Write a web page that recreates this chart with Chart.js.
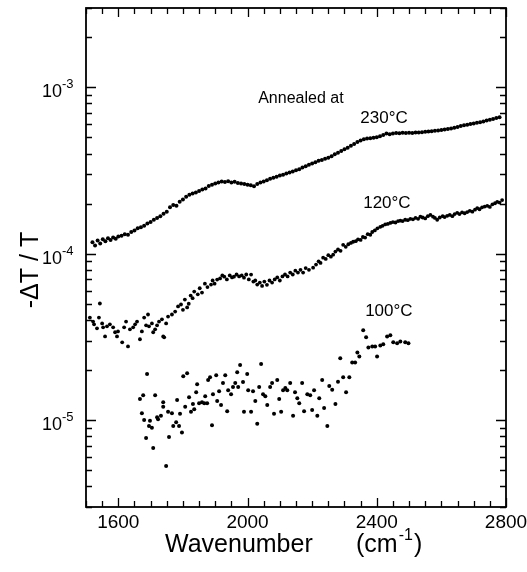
<!DOCTYPE html>
<html>
<head>
    <title>-ΔT / T vs Wavenumber</title>
    <script src="https://cdn.jsdelivr.net/npm/chart.js@4.4.0/dist/chart.umd.min.js"></script>
    <style>
        body { margin: 0; background: #fff; }
        #wrap { width: 527px; height: 572px; }
    </style>
</head>
<body>
<div id="wrap"><canvas id="chart" width="527" height="572"></canvas></div>
<script>
// ---- data (wavenumber in cm^-1, -dT/T) ----
const wn230 = [1520,1528,1536,1544,1552,1560,1568,1576,1584,1592,1600,1610,1620,1630,1640,1650,1660,1670,1680,1690,
    1700,1710,1720,1730,1740,1750,1760,1770,1780,1790,1800,1810,1820,1830,1840,1850,1860,1870,1880,1890,
    1900,1910,1920,1930,1940,1950,1960,1970,1980,1990,2000,2010,2020,2030,2040,2050,2060,2070,2080,2090,
    2100,2110,2120,2130,2140,2150,2160,2170,2180,2190,2200,2210,2220,2230,2240,2250,2260,2270,2280,2290,
    2300,2310,2320,2330,2340,2350,2360,2370,2380,2390,2400,2410,2420,2430,2440,2450,2460,2470,2480,2490,
    2500,2510,2520,2530,2540,2550,2560,2570,2580,2590,2600,2610,2620,2630,2640,2650,2660,2670,2680,2690,
    2700,2710,2720,2730,2740,2750,2760,2770,2780];
const val230 = [1.17e-4,1.12e-4,1.20e-4,1.15e-4,1.22e-4,1.19e-4,1.24e-4,1.21e-4,1.25e-4,1.23e-4,1.27e-4,1.28e-4,1.31e-4,1.30e-4,1.35e-4,1.38e-4,1.42e-4,1.44e-4,1.47e-4,1.52e-4,
    1.55e-4,1.60e-4,1.64e-4,1.68e-4,1.74e-4,1.79e-4,1.90e-4,1.96e-4,1.94e-4,2.05e-4,2.12e-4,2.20e-4,2.26e-4,2.30e-4,2.33e-4,2.38e-4,2.43e-4,2.47e-4,2.55e-4,2.60e-4,
    2.64e-4,2.68e-4,2.72e-4,2.70e-4,2.73e-4,2.68e-4,2.71e-4,2.66e-4,2.64e-4,2.62e-4,2.60e-4,2.58e-4,2.54e-4,2.62e-4,2.68e-4,2.72e-4,2.76e-4,2.82e-4,2.86e-4,2.90e-4,
    2.95e-4,2.98e-4,3.04e-4,3.08e-4,3.12e-4,3.17e-4,3.22e-4,3.30e-4,3.36e-4,3.42e-4,3.49e-4,3.55e-4,3.62e-4,3.66e-4,3.72e-4,3.78e-4,3.85e-4,3.96e-4,4.05e-4,4.14e-4,
    4.24e-4,4.33e-4,4.45e-4,4.56e-4,4.70e-4,4.80e-4,4.87e-4,4.92e-4,4.95e-4,4.98e-4,5.02e-4,5.08e-4,5.18e-4,5.28e-4,5.22e-4,5.28e-4,5.32e-4,5.30e-4,5.33e-4,5.31e-4,
    5.34e-4,5.32e-4,5.36e-4,5.35e-4,5.38e-4,5.40e-4,5.42e-4,5.45e-4,5.48e-4,5.50e-4,5.54e-4,5.58e-4,5.62e-4,5.66e-4,5.72e-4,5.78e-4,5.86e-4,5.92e-4,5.96e-4,6.02e-4,
    6.06e-4,6.12e-4,6.17e-4,6.24e-4,6.32e-4,6.38e-4,6.46e-4,6.55e-4,6.62e-4];

const wn120 = [1512,1522,1525,1534,1540,1543,1550,1553,1559,1565,1574,1584,1590,1596,1599,1612,1618,1624,1630,1636,
    1646,1652,1658,1667,1673,1680,1686,1692,1695,1704,1708,1714,1720,1726,1735,1739,1742,1748,1754,1766,
    1776,1785,1794,1800,1806,1813,1818,1824,1830,1835,1846,1852,1859,1868,1876,1887,1892,1898,1906,1915,
    1922,1928,1936,1945,1952,1958,1966,1974,1982,1989,1996,2004,2011,2018,2024,2030,2038,2045,2052,2060,
    2068,2076,2084,2092,2100,2108,2116,2124,2132,2140,2148,2156,2164,2172,2180,2190,2203,2212,2220,2226,
    2234,2242,2250,2258,2265,2272,2280,2288,2296,2304,2312,2320,2327,2335,2342,2350,2357,2364,2372,2380,
    2386,2394,2402,2411,2418,2426,2434,2442,2450,2458,2466,2473,2480,2488,2496,2504,2512,2520,2528,2535,
    2542,2550,2558,2566,2574,2580,2587,2595,2604,2610,2618,2626,2634,2641,2649,2656,2664,2672,2680,2688,
    2696,2704,2711,2718,2726,2734,2742,2750,2758,2766,2773,2780,2788];
const val120 = [4.13e-5,3.91e-5,3.76e-5,3.56e-5,4.13e-5,5.02e-5,3.81e-5,3.61e-5,3.18e-5,3.66e-5,3.76e-5,3.61e-5,3.37e-5,3.18e-5,3.41e-5,2.93e-5,3.61e-5,3.91e-5,2.77e-5,3.51e-5,
    3.61e-5,3.76e-5,3.91e-5,3.06e-5,3.41e-5,4.13e-5,3.71e-5,4.31e-5,3.66e-5,3.81e-5,3.37e-5,3.51e-5,3.71e-5,3.91e-5,4.03e-5,3.18e-5,3.14e-5,3.81e-5,4.19e-5,4.31e-5,
    4.49e-5,4.82e-5,4.95e-5,4.60e-5,5.30e-5,4.75e-5,5.00e-5,5.60e-5,5.40e-5,5.92e-5,5.70e-5,6.20e-5,5.84e-5,6.60e-5,6.30e-5,6.52e-5,6.90e-5,6.60e-5,6.99e-5,7.10e-5,
    7.40e-5,7.28e-5,7.00e-5,7.40e-5,7.20e-5,7.28e-5,7.50e-5,7.30e-5,7.40e-5,7.18e-5,7.50e-5,7.00e-5,7.49e-5,6.80e-5,6.90e-5,6.52e-5,6.70e-5,6.40e-5,6.80e-5,6.50e-5,
    6.90e-5,6.70e-5,7.00e-5,7.20e-5,6.90e-5,7.30e-5,7.50e-5,7.30e-5,7.70e-5,7.50e-5,7.90e-5,7.70e-5,8.00e-5,7.70e-5,8.20e-5,8.00e-5,8.24e-5,8.60e-5,9.00e-5,8.80e-5,
    9.46e-5,9.30e-5,9.80e-5,9.60e-5,9.86e-5,1.03e-4,1.06e-4,1.04e-4,1.13e-4,1.10e-4,1.14e-4,1.16e-4,1.18e-4,1.19e-4,1.22e-4,1.21e-4,1.26e-4,1.25e-4,1.31e-4,1.30e-4,
    1.35e-4,1.38e-4,1.42e-4,1.45e-4,1.47e-4,1.50e-4,1.51e-4,1.53e-4,1.55e-4,1.54e-4,1.57e-4,1.58e-4,1.57e-4,1.60e-4,1.59e-4,1.62e-4,1.61e-4,1.64e-4,1.62e-4,1.67e-4,
    1.65e-4,1.63e-4,1.68e-4,1.71e-4,1.67e-4,1.64e-4,1.60e-4,1.65e-4,1.68e-4,1.66e-4,1.69e-4,1.71e-4,1.68e-4,1.73e-4,1.76e-4,1.73e-4,1.77e-4,1.75e-4,1.78e-4,1.81e-4,
    1.79e-4,1.84e-4,1.88e-4,1.85e-4,1.90e-4,1.92e-4,1.94e-4,1.91e-4,1.98e-4,2.01e-4,2.05e-4,2.03e-4,2.10e-4];

const wn100 = [1667,1673,1677,1680,1686,1689,1695,1698,1704,1708,1714,1720,1723,1732,1739,1739,1748,1754,1757,1766,
    1770,1779,1782,1788,1791,1797,1801,1807,1813,1819,1825,1831,1835,1841,1844,1850,1859,1866,1869,1875,
    1878,1884,1890,1893,1903,1906,1912,1918,1924,1931,1937,1940,1949,1955,1962,1968,1971,1977,1986,1989,
    1999,2002,2011,2017,2024,2030,2036,2042,2048,2055,2061,2070,2076,2082,2092,2098,2104,2110,2117,2123,
    2132,2141,2147,2154,2160,2169,2175,2185,2194,2200,2206,2216,2222,2231,2237,2247,2253,2262,2272,2280,
    2287,2296,2305,2315,2324,2333,2340,2346,2358,2367,2374,2386,2395,2401,2411,2420,2432,2442,2451,2463,
    2473,2488,2498];
const val100 = [1.34e-5,1.10e-5,1.41e-5,1.00e-5,7.8e-6,1.89e-5,9.2e-6,9.9e-6,9.0e-6,6.8e-6,1.41e-5,1.04e-5,1.01e-5,1.06e-5,1.28e-5,1.20e-5,5.3e-6,1.12e-5,7.9e-6,1.10e-5,
    9.2e-6,9.7e-6,1.32e-5,9.2e-6,1.09e-5,8.4e-6,1.83e-5,1.20e-5,1.91e-5,1.37e-5,1.12e-5,1.25e-5,1.16e-5,1.47e-5,1.64e-5,1.26e-5,1.28e-5,1.26e-5,1.39e-5,1.26e-5,
    1.74e-5,1.81e-5,9.3e-6,1.43e-5,1.86e-5,1.30e-5,1.49e-5,1.23e-5,1.67e-5,1.86e-5,1.13e-5,1.51e-5,1.43e-5,1.58e-5,1.67e-5,1.94e-5,1.58e-5,2.14e-5,1.69e-5,1.12e-5,
    1.89e-5,1.51e-5,1.12e-5,1.49e-5,1.30e-5,9.5e-6,1.58e-5,2.17e-5,1.43e-5,1.39e-5,1.23e-5,1.58e-5,1.67e-5,1.09e-5,1.74e-5,1.34e-5,1.12e-5,1.51e-5,1.56e-5,1.51e-5,
    1.67e-5,1.06e-5,1.47e-5,1.35e-5,1.26e-5,1.67e-5,1.13e-5,1.43e-5,1.41e-5,1.15e-5,1.51e-5,1.06e-5,1.35e-5,1.74e-5,1.18e-5,9.2e-6,1.60e-5,1.52e-5,1.25e-5,1.70e-5,
    2.35e-5,1.81e-5,1.47e-5,1.81e-5,2.22e-5,2.22e-5,2.55e-5,2.41e-5,3.46e-5,3.14e-5,2.73e-5,2.77e-5,2.77e-5,2.41e-5,2.81e-5,2.85e-5,3.18e-5,3.23e-5,2.93e-5,2.89e-5,
    2.97e-5,2.93e-5,2.89e-5];

// axis ranges and labelled ticks
const xMin = 1500, xMax = 2800;
const yMin = 3e-6, yMax = 3e-3;
const xTickLabels = [1600, 2000, 2400, 2800];
const yTickLabels = [1e-5, 1e-4, 1e-3];
const yTickExps = ['-5', '-4', '-3'];

// curve labels: text, wavenumber, value (anchor of left/baseline)
const curveLabels = ['Annealed at', '230°C', '120°C', '100°C'];
const curveLabelWn = [2033, 2349, 2358, 2364];
const curveLabelVal = [8.0e-4, 6.1e-4, 1.88e-4, 4.2e-5];

const FONT = '"Liberation Sans", Arial, Helvetica, sans-serif';

function toPoints(xs, ys) {
    return xs.map((x, i) => ({ x: x, y: ys[i] }));
}

// frame, inward ticks, tick labels, axis titles and curve labels
const framePlugin = {
    id: 'frame',
    afterDatasetsDraw(chart) {
        const ctx = chart.ctx;
        const a = chart.chartArea;
        const xs = chart.scales.x, ys = chart.scales.y;
        ctx.save();
        ctx.strokeStyle = '#000';
        ctx.fillStyle = '#000';

        // ticks
        ctx.lineWidth = 1.3;
        ctx.beginPath();
        for (let v = xMin; v <= xMax; v += 50) {
            const px = Math.round(xs.getPixelForValue(v)) + 0.5;
            const len = xTickLabels.includes(v) ? 9 : 6;
            ctx.moveTo(px, a.bottom); ctx.lineTo(px, a.bottom - len);
            ctx.moveTo(px, a.top); ctx.lineTo(px, a.top + len);
        }
        for (let d = -6; d <= -3; d++) {
            for (let m = 1; m <= 9; m++) {
                const v = m * Math.pow(10, d);
                if (v < yMin * 0.999 || v > yMax * 1.001) continue;
                const py = Math.round(ys.getPixelForValue(v)) + 0.5;
                const len = m === 1 ? 10 : 6;
                ctx.moveTo(a.left, py); ctx.lineTo(a.left + len, py);
                ctx.moveTo(a.right, py); ctx.lineTo(a.right - len, py);
            }
        }
        ctx.stroke();

        // box
        ctx.lineWidth = 1.8;
        ctx.strokeRect(a.left, a.top, a.right - a.left, a.bottom - a.top);

        // x tick labels
        ctx.font = '19px ' + FONT;
        ctx.textAlign = 'center';
        ctx.textBaseline = 'alphabetic';
        xTickLabels.forEach(v => {
            ctx.fillText(String(v), xs.getPixelForValue(v), a.bottom + 21);
        });

        // y tick labels 10^n
        yTickLabels.forEach((v, i) => {
            const py = ys.getPixelForValue(v);
            ctx.font = '13px ' + FONT;
            ctx.textAlign = 'left';
            ctx.fillText(yTickExps[i], 62, py + 1);
            ctx.font = '18px ' + FONT;
            ctx.textAlign = 'right';
            ctx.fillText('10', 62, py + 10);
        });

        // x axis title
        ctx.font = '25px ' + FONT;
        ctx.textAlign = 'left';
        ctx.fillText('Wavenumber', 165, 552);
        let cx = 356;
        ctx.fillText('(cm', cx, 552);
        cx += ctx.measureText('(cm').width + 1;
        ctx.font = '16px ' + FONT;
        ctx.fillText('-1', cx, 540);
        cx += ctx.measureText('-1').width + 1;
        ctx.font = '25px ' + FONT;
        ctx.fillText(')', cx, 552);

        // y axis title
        ctx.save();
        ctx.translate(38, 270);
        ctx.rotate(-Math.PI / 2);
        ctx.textAlign = 'center';
        ctx.fillText('-ΔT / T', 0, 0);
        ctx.restore();

        // curve labels
        curveLabels.forEach((t, i) => {
            ctx.font = (i === 0 ? '16px ' : '17px ') + FONT;
            ctx.textAlign = 'left';
            ctx.fillText(t, xs.getPixelForValue(curveLabelWn[i]), ys.getPixelForValue(curveLabelVal[i]));
        });
        ctx.restore();
    }
};

function dataset(xs, ys, r) {
    return {
        data: toPoints(xs, ys),
        backgroundColor: '#000',
        borderWidth: 0,
        pointRadius: r,
        pointHoverRadius: r
    };
}

new Chart(document.getElementById('chart'), {
    type: 'scatter',
    data: {
        datasets: [
            dataset(wn230, val230, 2.0),
            dataset(wn120, val120, 1.9),
            dataset(wn100, val100, 2.0)
        ]
    },
    options: {
        responsive: false,
        animation: false,
        layout: { padding: { left: 86, right: 21, top: 8, bottom: 65 } },
        plugins: { legend: { display: false }, tooltip: { enabled: false } },
        scales: {
            x: { type: 'linear', min: xMin, max: xMax, display: false },
            y: { type: 'logarithmic', min: yMin, max: yMax, display: false }
        }
    },
    plugins: [framePlugin]
});
</script>
</body>
</html>
